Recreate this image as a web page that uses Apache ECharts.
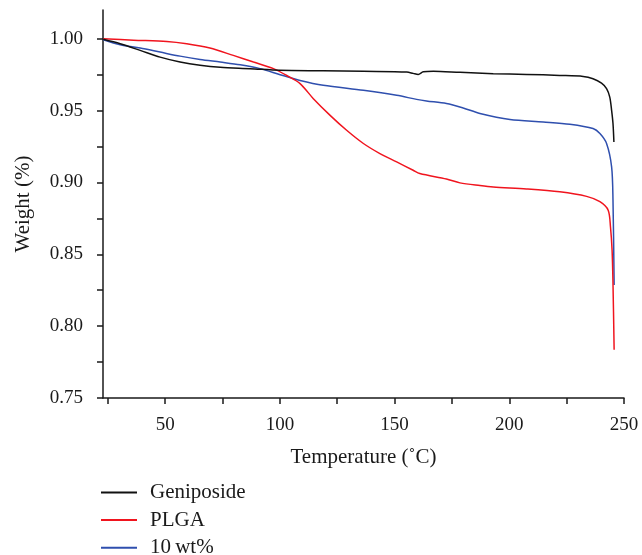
<!DOCTYPE html>
<html>
<head>
<meta charset="utf-8">
<script src="https://cdn.jsdelivr.net/npm/echarts@6/dist/echarts.min.js"></script>
<style>
  html, body { margin: 0; padding: 0; background: #fff; }
  #chart { width: 642px; height: 555px; }
</style>
</head>
<body>
<div id="chart"></div>
<script>
// TGA curves: temperature (°C) against remaining weight fraction
const geniposideTemp = [23, 30.4, 39.1, 47.8, 56.5, 65.2, 74, 87, 100.1, 118.9, 136.4, 155.3, 158.1, 160.3, 162.5, 166.9, 178.5, 193.0, 207.5, 222.0, 232.2, 236.5, 240.2, 242.4, 243.8, 244.6, 245.2, 245.6];
const geniposideWeight = [0.9996, 0.9965, 0.9919, 0.9872, 0.9838, 0.9815, 0.9801, 0.9792, 0.9781, 0.9777, 0.9773, 0.9768, 0.9759, 0.9752, 0.9770, 0.9774, 0.9766, 0.9757, 0.9752, 0.9745, 0.9738, 0.9722, 0.9691, 0.9653, 0.9594, 0.9502, 0.9410, 0.9282];

const plgaTemp = [23, 36.2, 50.7, 59.4, 69.5, 79.7, 88.5, 97.2, 103, 108.8, 114.6, 121.9, 129.1, 136.4, 143.6, 150.9, 158.1, 161.0, 172.6, 178.5, 187.2, 193.0, 207.5, 222.0, 233.7, 239.5, 243.1, 244.1, 244.8, 245.2, 245.7];
const plgaWeight = [1.0000, 0.9990, 0.9981, 0.9965, 0.9935, 0.9884, 0.9838, 0.9792, 0.9744, 0.9688, 0.9583, 0.9467, 0.9363, 0.9271, 0.9201, 0.9143, 0.9085, 0.9062, 0.9024, 0.8997, 0.8978, 0.8968, 0.8955, 0.8935, 0.8903, 0.8866, 0.8807, 0.8692, 0.8530, 0.8299, 0.7835];

const blendTemp = [23, 30.4, 39.1, 47.8, 56.5, 65.2, 74, 82.7, 91.4, 100.1, 108.8, 118.9, 136.4, 150.9, 159.6, 163.9, 172.6, 179.9, 187.2, 200.3, 214.8, 226.4, 236.5, 239.5, 242.4, 244.6, 245.2, 245.7];
const blendWeight = [0.9993, 0.9958, 0.9935, 0.9907, 0.9879, 0.9856, 0.9838, 0.9819, 0.9792, 0.9750, 0.9710, 0.9676, 0.9641, 0.9606, 0.9578, 0.9567, 0.9549, 0.9518, 0.9480, 0.9438, 0.9421, 0.9405, 0.9375, 0.9340, 0.9271, 0.9108, 0.8877, 0.8287];

const seriesNames = ['Geniposide', 'PLGA', '10\u2009wt%'];
const seriesColors = ['#111111', '#f0141e', '#2f4fae'];

const xTicks = [25, 50, 75, 100, 125, 150, 175, 200, 225, 250];
const xLabels = [50, 100, 150, 200, 250];
const yTicks = [0.75, 0.775, 0.8, 0.825, 0.85, 0.875, 0.9, 0.925, 0.95, 0.975, 1.0];
const yLabels = [0.75, 0.8, 0.85, 0.9, 0.95, 1.0];

const zip = (xs, ys) => xs.map((x, i) => [x, ys[i]]);
const curves = [
  zip(geniposideTemp, geniposideWeight),
  zip(plgaTemp, plgaWeight),
  zip(blendTemp, blendWeight)
];

const FONT = 'Liberation Serif';
const axisColor = '#1a1a1a';
const textColor = '#1a1a1a';

// one legend row per series, stacked under the x-axis title
const legendRowTop = 482;
const legendRowStep = 27.6;
const legends = seriesNames.map((name, i) => ({
  orient: 'vertical',
  left: 101,
  top: legendRowTop + i * legendRowStep,
  padding: 0,
  itemWidth: 36,
  itemHeight: 2,
  icon: 'rect',
  data: [name],
  selectedMode: false,
  textStyle: { fontFamily: FONT, fontSize: 21, color: textColor, padding: [0, 0, 0, 8] }
}));

const chart = echarts.init(document.getElementById('chart'), null, { renderer: 'canvas' });
chart.setOption({
  animation: false,
  backgroundColor: '#ffffff',
  grid: { left: 103, right: 18, top: 10, bottom: 157 },
  legend: legends,
  xAxis: {
    type: 'value',
    min: 22.9,
    max: 250,
    name: 'Temperature (\u02DAC)',
    nameLocation: 'middle',
    nameGap: 49,
    nameTextStyle: { fontFamily: FONT, fontSize: 21, color: textColor },
    axisLine: { show: true, lineStyle: { color: axisColor, width: 1.5 } },
    axisTick: { show: true, inside: false, length: 6, lineStyle: { color: axisColor, width: 1.5 }, customValues: xTicks },
    axisLabel: { margin: 18, fontFamily: FONT, fontSize: 19, color: textColor, customValues: xLabels },
    splitLine: { show: false }
  },
  yAxis: {
    type: 'value',
    min: 0.75,
    max: 1.02,
    name: 'Weight (%)',
    nameLocation: 'middle',
    nameGap: 69,
    nameTextStyle: { fontFamily: FONT, fontSize: 21, color: textColor },
    axisLine: { show: true, lineStyle: { color: axisColor, width: 1.5 } },
    axisTick: { show: true, inside: false, length: 6, lineStyle: { color: axisColor, width: 1.5 }, customValues: yTicks },
    axisLabel: {
      margin: 20, fontFamily: FONT, fontSize: 19, color: textColor,
      customValues: yLabels,
      formatter: v => Number(v).toFixed(2)
    },
    splitLine: { show: false }
  },
  series: curves.map((d, i) => ({
    name: seriesNames[i],
    type: 'line',
    data: d,
    smooth: 0.3,
    showSymbol: false,
    symbol: 'none',
    color: seriesColors[i],
    lineStyle: { color: seriesColors[i], width: 1.5 },
    z: 3 - i
  }))
});
</script>
</body>
</html>
